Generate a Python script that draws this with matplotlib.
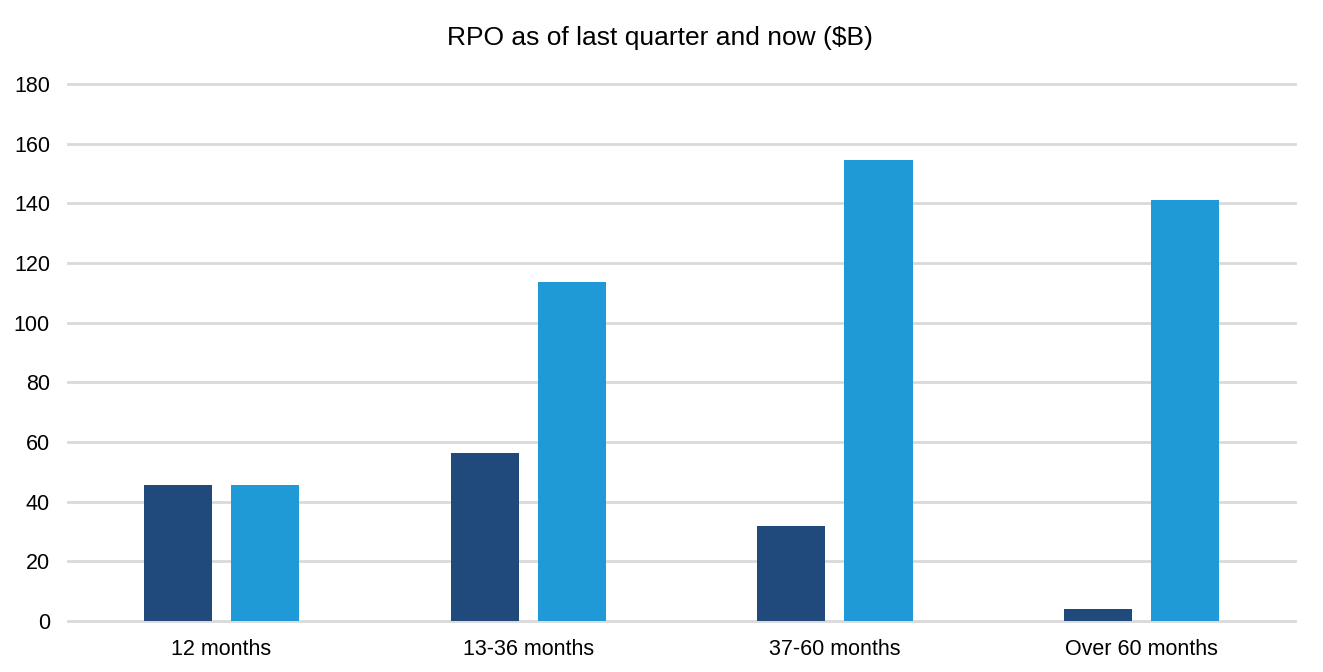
import matplotlib
matplotlib.use("Agg")
import matplotlib.pyplot as plt
import numpy as np

plt.rcParams['font.family'] = ['Liberation Sans', 'DejaVu Sans']

categories = ["12 months", "13-36 months", "37-60 months", "Over 60 months"]
last_quarter = [45.6, 56.3, 31.8, 4.0]
now = [45.6, 113.6, 154.6, 141.2]
yticks = [0, 20, 40, 60, 80, 100, 120, 140, 160, 180]

fig = plt.figure(figsize=(13.23, 6.72), dpi=100)
ax = fig.add_axes([0.0514, 0.0759, 0.9275, 0.7991])

x = np.arange(len(categories))
w = 0.222
ax.bar(x - 0.142, last_quarter, width=w, color="#204a7b", zorder=3)
ax.bar(x + 0.142, now, width=w, color="#1f9ad6", zorder=3)

ax.set_xlim(-0.5, len(categories) - 0.5)
ax.set_ylim(0, 180)
ax.set_yticks(yticks)
ax.set_xticks(x)
ax.set_xticklabels(categories)
ax.yaxis.grid(True, color="#d9d9d9", linewidth=2, zorder=0)
for gl in ax.get_ygridlines():
    gl.set_clip_on(False)
ax.set_axisbelow(True)
for s in ax.spines.values():
    s.set_visible(False)
ax.tick_params(axis="both", length=0, labelsize=15.5, colors="#000000")
ax.tick_params(axis="y", pad=13)
ax.tick_params(axis="x", pad=13)
ax.set_title("RPO as of last quarter and now ($B)", fontsize=19, pad=28, x=0.4825)

fig.savefig("out.png", dpi=100)
